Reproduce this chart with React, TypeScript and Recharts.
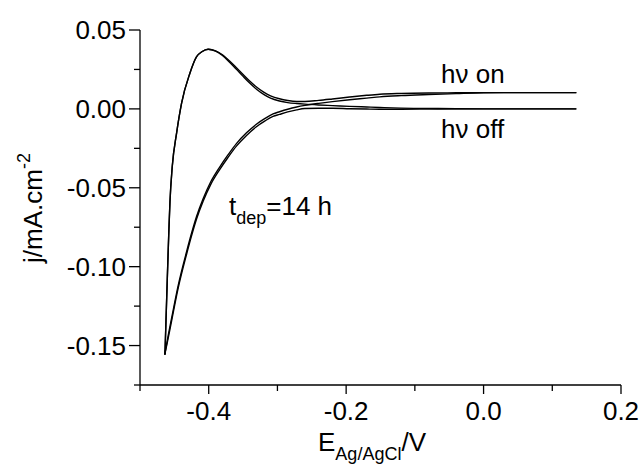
import { LineChart, Line, XAxis, YAxis } from "recharts";

// reverse scan (steep rise + stripping peak), shared potentials
const reverseX = [
  -0.4637, -0.4622, -0.4603, -0.4579, -0.4564, -0.4531, -0.4467, -0.4394, -0.4274, -0.4176, -0.41, -0.4008,
  -0.39, -0.38, -0.37, -0.36, -0.35, -0.34, -0.33, -0.32, -0.31, -0.297, -0.285, -0.272,
  -0.26, -0.24, -0.22, -0.195, -0.17, -0.151, -0.12, -0.08, -0.04, 0, 0.05, 0.1, 0.135,
];
const reverseOnY = [
  -0.1557, -0.1345, -0.108, -0.076, -0.059, -0.0367, -0.0152, 0.0038, 0.0226, 0.0331, 0.0362, 0.0378,
  0.0368, 0.0343, 0.0305, 0.0262, 0.0218, 0.0175, 0.0137, 0.0106, 0.0083, 0.0064, 0.0053, 0.0047,
  0.0047, 0.0054, 0.0063, 0.0075, 0.0086, 0.0093, 0.0098, 0.0101, 0.0102, 0.0103, 0.0103, 0.0103, 0.0103,
];
const reverseOffY = [
  -0.1557, -0.1345, -0.108, -0.076, -0.059, -0.0367, -0.0152, 0.0038, 0.0226, 0.0331, 0.0362, 0.0378,
  0.0366, 0.0338, 0.0297, 0.0252, 0.0206, 0.0162, 0.0123, 0.0092, 0.0068, 0.005, 0.004, 0.0034,
  0.003, 0.0025, 0.0021, 0.0016, 0.0012, 0.0009, 0.0005, 0.0003, 0.0001, 0, 0, 0, 0,
];

// forward (cathodic) scan, shared potentials
const forwardX = [
  -0.464, -0.459, -0.454, -0.4443, -0.4322, -0.4249, -0.4177, -0.408, -0.397, -0.3838, -0.372, -0.3597,
  -0.345, -0.3306, -0.318, -0.3064, -0.297, -0.285, -0.272, -0.26, -0.24, -0.22, -0.195, -0.17,
  -0.151, -0.12, -0.08, -0.04, 0, 0.05, 0.1, 0.135,
];
const forwardOnY = [
  -0.1557, -0.1437, -0.1327, -0.1117, -0.0905, -0.0787, -0.0682, -0.0568, -0.0462, -0.0367, -0.0292, -0.022,
  -0.0152, -0.0097, -0.006, -0.0032, -0.0018, -0.0002, 0.0012, 0.0022, 0.0035, 0.0046, 0.0058, 0.0068,
  0.0076, 0.0084, 0.0091, 0.0097, 0.0102, 0.0103, 0.0103, 0.0103,
];
const forwardOffY = [
  -0.1557, -0.1453, -0.1343, -0.1133, -0.0921, -0.0803, -0.0698, -0.0584, -0.0478, -0.0383, -0.0308, -0.0236,
  -0.0168, -0.0113, -0.0076, -0.0048, -0.0035, -0.0019, -0.0006, 0.0002, 0.0004, 0.0004, 0.0001, -0.0001,
  -0.0002, -0.0002, -0.0001, 0, 0, 0, 0, 0,
];

const xTicks = [-0.5, -0.4, -0.3, -0.2, -0.1, 0, 0.1, 0.2];
const yTicks = [0.05, 0.025, 0, -0.025, -0.05, -0.075, -0.1, -0.125, -0.15, -0.175];

const FONT = '"Liberation Sans", Arial, sans-serif';

const zip = (xs: number[], ys: number[]) => xs.map((x, i) => ({ x, y: ys[i] }));

const series = [
  zip(reverseX, reverseOnY),
  zip(reverseX, reverseOffY),
  zip(forwardX, forwardOnY),
  zip(forwardX, forwardOffY),
];

const isMajor = (v: number, step: number) => Math.abs(v / step - Math.round(v / step)) < 1e-6;

const YTick = (props: any) => {
  const { x, y, payload } = props;
  const v = payload.value as number;
  const major = isMajor(v, 0.05) && v > -0.17;
  return (
    <g>
      <line x1={x} x2={x - (major ? 11 : 6)} y1={y} y2={y} stroke="#000" strokeWidth={1.3} />
      {major && (
        <text x={x - 14} y={y + 9} textAnchor="end" fontSize={26} fontFamily={FONT} fill="#000">
          {v.toFixed(2)}
        </text>
      )}
    </g>
  );
};

const XTick = (props: any) => {
  const { x, y, payload } = props;
  const v = payload.value as number;
  const major = isMajor(v, 0.2);
  return (
    <g>
      <line x1={x} x2={x} y1={y} y2={y + (major ? 9 : 6)} stroke="#000" strokeWidth={1.3} />
      {major && (
        <text x={x} y={y + 35} textAnchor="middle" fontSize={26} fontFamily={FONT} fill="#000">
          {v.toFixed(1)}
        </text>
      )}
    </g>
  );
};

export default function App() {
  return (
    <div style={{ position: "absolute", left: 0, top: 0, width: 642, height: 465, background: "#fff" }}>
      <LineChart width={642} height={465} margin={{ top: 30, right: 21, bottom: 30, left: 0 }}>
        <XAxis
          dataKey="x"
          type="number"
          domain={[-0.5, 0.2]}
          ticks={xTicks}
          interval={0}
          tickSize={0}
          tickMargin={0}
          tickLine={false}
          tick={<XTick />}
          height={50}
          axisLine={{ stroke: "#000", strokeWidth: 1.3 }}
          allowDataOverflow
        />
        <YAxis
          dataKey="y"
          type="number"
          domain={[-0.175, 0.05]}
          ticks={yTicks}
          interval={0}
          tickSize={0}
          tickMargin={0}
          tickLine={false}
          tick={<YTick />}
          width={140}
          axisLine={{ stroke: "#000", strokeWidth: 1.3 }}
          allowDataOverflow
        />
        {series.map((d, i) => (
          <Line
            key={i}
            data={d}
            dataKey="y"
            type="monotone"
            stroke="#000"
            strokeWidth={1.4}
            dot={false}
            activeDot={false}
            isAnimationActive={false}
          />
        ))}
      </LineChart>
      <svg
        width={642}
        height={465}
        style={{ position: "absolute", left: 0, top: 0, pointerEvents: "none" }}
        fontFamily={FONT}
        fill="#000"
      >
        <text x={441} y={83} fontSize={26}>hν on</text>
        <text x={441} y={138} fontSize={26}>hν off</text>
        <text x={229} y={215} fontSize={26}>
          t<tspan fontSize={18} dy={9}>dep</tspan>
          <tspan dy={-9}>=14 h</tspan>
        </text>
        <text x={372} y={451} fontSize={26} textAnchor="middle">
          E<tspan fontSize={18} dy={9}>Ag/AgCl</tspan>
          <tspan dy={-9}>/V</tspan>
        </text>
        <text transform="translate(42,208) rotate(-90)" fontSize={26} textAnchor="middle">
          j/mA.cm<tspan fontSize={18} dy={-12}>-2</tspan>
        </text>
      </svg>
    </div>
  );
}
